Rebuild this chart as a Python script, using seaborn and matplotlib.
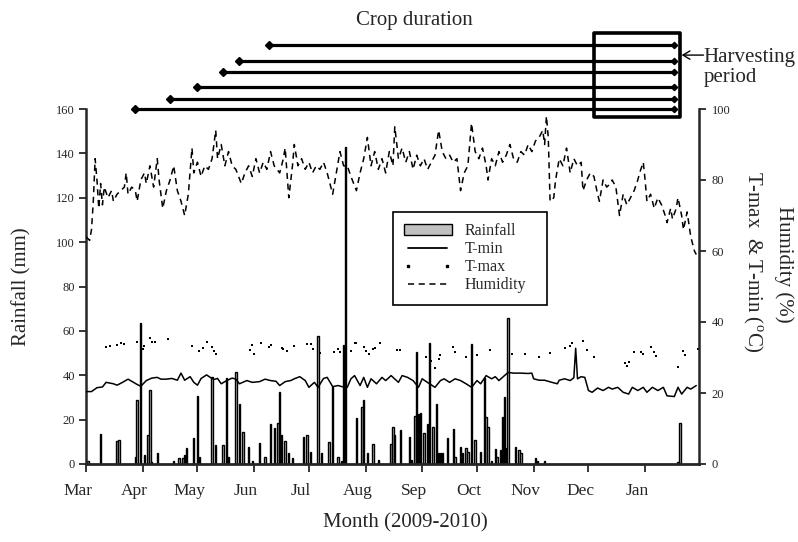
import matplotlib
matplotlib.use("Agg")
import matplotlib.pyplot as plt
import matplotlib.transforms as mtransforms
from matplotlib.patches import Rectangle, Patch
from matplotlib.lines import Line2D
import seaborn as sns

# days counted from 1 March 2009
month_start = [0, 31, 61, 92, 122, 153, 184, 214, 245, 275, 306]
month_lbl = ["Mar", "Apr", "May", "Jun", "Jul", "Aug", "Sep", "Oct", "Nov", "Dec", "Jan"]

# rainfall (mm)
rain_day = [1, 8, 17, 18, 27, 28, 30, 32, 34, 35, 36, 39, 48, 51, 53, 54, 55, 59, 61, 62,
            69, 71, 75, 77, 78, 82, 84, 86, 89, 91, 95, 98, 101, 103, 105, 106, 107, 109,
            111, 113, 119, 121, 123, 127, 129, 133, 135, 138, 140, 141, 142, 148, 151, 152,
            154, 157, 160, 167, 168, 169, 172, 177, 178, 180, 181, 182, 183, 185, 187, 188,
            190, 192, 193, 194, 195, 198, 201, 202, 205, 206, 208, 209, 211, 213, 216, 218,
            219, 220, 222, 224, 225, 227, 228, 229, 230, 231, 235, 237, 238, 246, 247, 251,
            324, 325]
rain_mm = [1.5, 13.5, 10.5, 11, 3.3, 28.8, 63.4, 4, 13, 33.3, 1, 5, 1.5, 2.7, 2.7, 4, 7.2, 11.7, 30.6, 3.3,
           39, 8.6, 8.6, 38.6, 3.3, 41.6, 27, 14.6, 7.8, 1.5, 9.6, 3, 18, 16.4, 18.6, 32.3, 13, 10.5,
           4.8, 2.5, 12.3, 13, 5.5, 57.7, 4.8, 9.8, 34.8, 3.3, 1.5, 53.6, 143, 20.6, 25.5, 28.8,
           4.8, 9, 2, 9, 16.8, 13, 15.3, 12, 2, 21.6, 50.6, 22.5, 22.8, 14.1, 18, 54.7,
           16.8, 26.9, 4.8, 4.8, 4.8, 11.6, 15.8, 3.3, 7.8, 4.8, 7.2, 5.5, 54, 11, 5.5, 38.6,
           21.3, 16.8, 1.5, 6.6, 3.3, 6.2, 21.3, 30.3, 7.2, 65.7, 7.8, 6.2, 4.8, 2.5, 1.5, 1.3,
           1, 18.6]

# minimum temperature (deg C)
tmin_day = [0, 3, 6, 9, 11, 13, 15, 17, 20, 23, 26, 28, 30, 33, 36, 39, 41, 44, 47, 50, 52, 54,
            57, 59, 61, 63, 66, 68, 70, 72, 74, 77, 80, 82, 84, 88, 91, 95, 98, 101, 104, 106,
            109, 112, 114, 117, 120, 122, 125, 127, 130, 132, 135, 138, 140, 143, 145, 147,
            150, 152, 154, 156, 159, 162, 164, 167, 171, 173, 176, 179, 182, 184, 188, 191,
            194, 196, 199, 202, 205, 208, 211, 214, 216, 219, 222, 224, 226, 229, 231, 234,
            238, 242, 244, 245, 248, 251, 255, 258, 259, 262, 265, 267, 268, 269, 271, 273,
            275, 277, 280, 283, 286, 288, 291, 294, 297, 299, 302, 305, 307, 310, 313, 316,
            318, 322, 324, 326, 329, 331, 334]
tmin_val = [20.4, 20.4, 21.5, 21.7, 23.0, 22.8, 22.6, 22.2, 23.0, 23.9, 23.0, 22.4, 21.9, 23.5,
            24.2, 24.4, 23.9, 23.9, 24.1, 23.6, 25.6, 23.6, 24.6, 23.0, 22.2, 24.1, 25.1, 24.4,
            23.8, 24.1, 22.6, 23.5, 24.2, 23.9, 22.6, 23.5, 23.0, 23.2, 23.9, 23.5, 23.3, 22.1,
            23.2, 23.5, 24.0, 24.6, 23.5, 21.6, 23.0, 21.6, 24.1, 24.4, 21.8, 22.1, 21.8, 21.6,
            24.0, 24.9, 22.1, 24.4, 21.6, 24.0, 22.6, 24.4, 23.5, 24.9, 23.0, 24.9, 24.4, 23.5,
            21.6, 24.0, 22.6, 21.6, 23.5, 24.0, 23.0, 24.0, 23.5, 22.6, 21.6, 23.5, 22.6, 24.9,
            24.0, 24.6, 23.5, 24.9, 25.8, 25.6, 25.6, 25.5, 25.6, 24.0, 23.6, 23.6, 23.0, 22.6,
            23.6, 24.0, 23.5, 24.3, 32.6, 24.0, 24.6, 24.4, 20.7, 20.2, 21.4, 20.7, 21.6, 21.1,
            21.6, 20.2, 19.7, 21.6, 20.7, 21.6, 20.2, 21.6, 20.7, 21.6, 19.2, 19.0, 21.6, 19.7,
            21.6, 21.1, 22.1]

# maximum temperature (deg C), recorded days only
tmax_day = [11, 13, 17, 19, 21, 28, 31, 32, 35, 36, 38, 45, 58, 62, 64, 66, 69, 70, 71, 90, 91,
            92, 96, 100, 101, 107, 108, 110, 114, 121, 123, 124, 128, 136, 138, 139, 145, 147,
            148, 152, 153, 155, 157, 158, 161, 170, 172, 186, 189, 191, 193, 194, 201, 202,
            208, 214, 221, 233, 240, 248, 254, 262, 265, 266, 272, 274, 278, 295, 296, 297,
            300, 304, 305, 309, 311, 312, 324, 327, 328, 335]
tmax_val = [32.9, 33.2, 33.6, 34.1, 33.9, 34.4, 32.3, 33.1, 35.5, 34.4, 34.4, 35.3, 33.2, 31.8,
            32.7, 34.4, 32.9, 31.8, 31.1, 32.2, 33.4, 31.1, 34.1, 33.0, 33.4, 32.8, 32.3, 31.8,
            33.1, 33.9, 33.7, 32.5, 31.3, 31.5, 32.5, 31.5, 31.8, 34.1, 34.1, 32.9, 31.8, 31.1,
            32.3, 32.7, 34.1, 32.2, 32.0, 30.1, 29.0, 27.1, 29.5, 30.6, 32.9, 31.5, 30.1, 30.8,
            32.0, 31.1, 31.1, 30.1, 31.3, 32.7, 33.2, 34.1, 34.6, 32.0, 30.1, 28.4, 27.6, 28.7,
            31.5, 31.5, 30.9, 32.9, 31.5, 30.4, 27.3, 31.7, 30.6, 32.3]

# relative humidity (%)
hum_day = [0, 2, 3, 4, 5, 6, 7, 8, 9, 10, 12, 14, 15, 17, 19, 21, 22, 23, 25, 27, 28, 30, 32,
           33, 35, 37, 39, 40, 42, 44, 46, 48, 50, 52, 54, 56, 58, 59, 61, 63, 65, 67, 69, 71,
           72, 74, 76, 78, 80, 82, 85, 87, 89, 91, 93, 95, 97, 99, 101, 103, 106, 108, 109,
           111, 113, 114, 116, 118, 120, 122, 124, 126, 128, 130, 132, 135, 137, 139, 141,
           143, 145, 148, 150, 152, 154, 156, 158, 160, 162, 164, 166, 168, 169, 171, 173,
           175, 177, 179, 181, 183, 185, 187, 189, 191, 193, 195, 197, 199, 201, 203, 205,
           207, 209, 211, 213, 215, 217, 219, 220, 222, 224, 226, 228, 230, 232, 234, 236,
           238, 240, 242, 244, 246, 248, 250, 251, 252, 253, 254, 256, 257, 259, 261, 263,
           265, 267, 269, 271, 272, 274, 276, 278, 280, 281, 283, 285, 287, 288, 290, 292,
           294, 296, 298, 300, 302, 303, 305, 306, 307, 309, 311, 313, 315, 317, 318, 320,
           321, 323, 324, 326, 327, 329, 331, 333, 334]
hum_pct = [64, 63, 66, 74, 86, 80, 72, 79, 73, 78, 75, 77, 74, 76, 77, 78, 82, 76, 78, 77, 74,
           80, 82, 79, 84, 78, 86, 80, 72, 77, 80, 84, 77, 74, 70, 76, 89, 82, 85, 81, 84, 83,
           86, 94, 86, 90, 84, 88, 84, 83, 79, 82, 84, 81, 86, 82, 85, 83, 88, 84, 82, 86, 89,
           75, 84, 90, 84, 86, 83, 85, 82, 84, 83, 85, 82, 76, 82, 88, 84, 84, 81, 77, 82, 86,
           92, 84, 88, 83, 86, 82, 88, 84, 95, 86, 89, 85, 88, 83, 87, 84, 86, 83, 85, 87, 94,
           88, 86, 87, 85, 86, 77, 82, 84, 96, 88, 86, 89, 84, 80, 86, 84, 88, 85, 87, 90, 86,
           85, 88, 87, 90, 88, 91, 92, 94, 90, 98, 92, 74, 75, 80, 86, 84, 89, 82, 86, 84, 85,
           77, 80, 82, 81, 76, 74, 80, 78, 79, 80, 78, 70, 76, 73, 75, 77, 80, 82, 85, 80, 74,
           76, 72, 75, 73, 70, 68, 72, 69, 72, 75, 70, 66, 71, 64, 60, 59]

# crop duration lines (sowing day -> end of harvest) and harvesting window
sow_day = [100, 84, 75, 61, 46, 27]
crop_end = 322
crop_level = [188.8, 181.7, 176.8, 170.0, 164.5, 160.0]
harvest_start, harvest_stop = 278, 325
box_low, box_high = 156.4, 194.2

sns.set_style("ticks")
plt.rcParams["font.family"] = ["Liberation Serif", "DejaVu Serif"]
plt.rcParams["mathtext.fontset"] = "custom"
plt.rcParams["mathtext.rm"] = "Liberation Serif"

fig = plt.figure(figsize=(7.98, 5.42), dpi=100)
ax = fig.add_axes([86 / 798, 78 / 542, 613 / 798, 355 / 542])
ax2 = ax.twinx()

sns.barplot(x=rain_day, y=rain_mm, native_scale=True, ax=ax, color="#c0c0c0",
            saturation=1, edgecolor="black", linewidth=1.0, width=0.75, errorbar=None)

sns.lineplot(x=tmin_day, y=tmin_val, ax=ax2, color="black", linewidth=1.1, estimator=None)
sns.lineplot(x=hum_day, y=hum_pct, ax=ax2, color="black", linewidth=1.1,
             linestyle=(0, (4, 3)), estimator=None)
sns.scatterplot(x=tmax_day, y=tmax_val, ax=ax2, color="black", marker="s", s=3.5, linewidth=0)

ax.set_xlim(0, 335.5)
ax.set_ylim(0, 160)
ax2.set_ylim(0, 100)
ax.set_xticks(month_start)
ax.set_xticklabels(month_lbl)
ax.set_yticks(range(0, 161, 20))
ax2.set_yticks(range(0, 101, 20))
ax.set_xlabel("")
ax.set_ylabel("")
ax2.set_ylabel("")

for a in (ax, ax2):
    a.spines["top"].set_visible(False)
ax.spines["right"].set_visible(False)
ax2.spines["left"].set_visible(False)
ax2.spines["bottom"].set_visible(False)
ax.spines["left"].set_linewidth(1.8)
ax.spines["bottom"].set_linewidth(2.0)
ax2.spines["right"].set_linewidth(1.8)

ax.tick_params(axis="y", direction="out", length=5, width=1.3, labelsize=9, pad=3)
ax.tick_params(axis="x", direction="out", length=6, width=1.3, labelsize=12.5, pad=8)
ax2.tick_params(axis="y", direction="out", length=5, width=1.3, labelsize=9, pad=4)
shift = mtransforms.ScaledTranslation(-8 / 100, 0, fig.dpi_scale_trans)
for lbl in ax.get_xticklabels():
    lbl.set_transform(lbl.get_transform() + shift)

# crop duration lines above the plot
for sd, lv in zip(sow_day, crop_level):
    ax.plot([sd, crop_end], [lv, lv], color="black", lw=2.3, clip_on=False,
            solid_capstyle="butt")
    ax.plot([sd], [lv], marker="D", ms=4.5, color="black", clip_on=False)
    ax.plot([crop_end], [lv], marker="D", ms=3.2, color="black", clip_on=False)
ax.add_patch(Rectangle((harvest_start, box_low), harvest_stop - harvest_start,
                       box_high - box_low, fill=False, ec="black", lw=2.6,
                       clip_on=False, joinstyle="round"))
ax.text(179.5, 200, "Crop duration", ha="center", va="center", fontsize=15)
ax.text(338, 178.8, "Harvesting\nperiod", ha="left", va="center", fontsize=15,
        linespacing=1.05)
ax.annotate("", xy=(326, 184.3), xytext=(338, 184.3), annotation_clip=False,
            arrowprops=dict(arrowstyle="->,head_length=0.5,head_width=0.3", lw=1,
                            color="black", shrinkA=0, shrinkB=0))

fig.text(22 / 798, 1 - 287 / 542, "Rainfall (mm)", rotation=90, ha="center",
         va="center", fontsize=15)
fig.text(405 / 798, 1 - 523 / 542, "Month (2009-2010)", ha="center", va="center",
         fontsize=15)
fig.text(753 / 798, 1 - 262 / 542, r"T-max  & T-min ($^{\rm o}$C)", rotation=-90,
         ha="center", va="center", fontsize=15)
fig.text(784 / 798, 1 - 264 / 542, "Humidity (%)", rotation=-90, ha="center",
         va="center", fontsize=15)

handles = [Patch(facecolor="#c0c0c0", edgecolor="black", lw=1),
           Line2D([], [], color="black", lw=1.3),
           Line2D([], [], ls="none", marker="s", ms=2, color="black"),
           Line2D([], [], color="black", lw=1.1, ls=(0, (4, 3)))]
leg = ax2.legend(handles, ["Rainfall", "T-min", "T-max", "Humidity"], loc="upper left",
                 bbox_to_anchor=(0.5, 0.456, 0.252, 0.254), mode="expand",
                 frameon=True, fancybox=False,
                 edgecolor="black", fontsize=11.5, handlelength=3.0, handletextpad=0.8,
                 labelspacing=0.13, borderpad=0.7, borderaxespad=0, numpoints=2,
                 framealpha=1)
leg.get_frame().set_linewidth(1.2)

fig.savefig("out.png", dpi=100)
